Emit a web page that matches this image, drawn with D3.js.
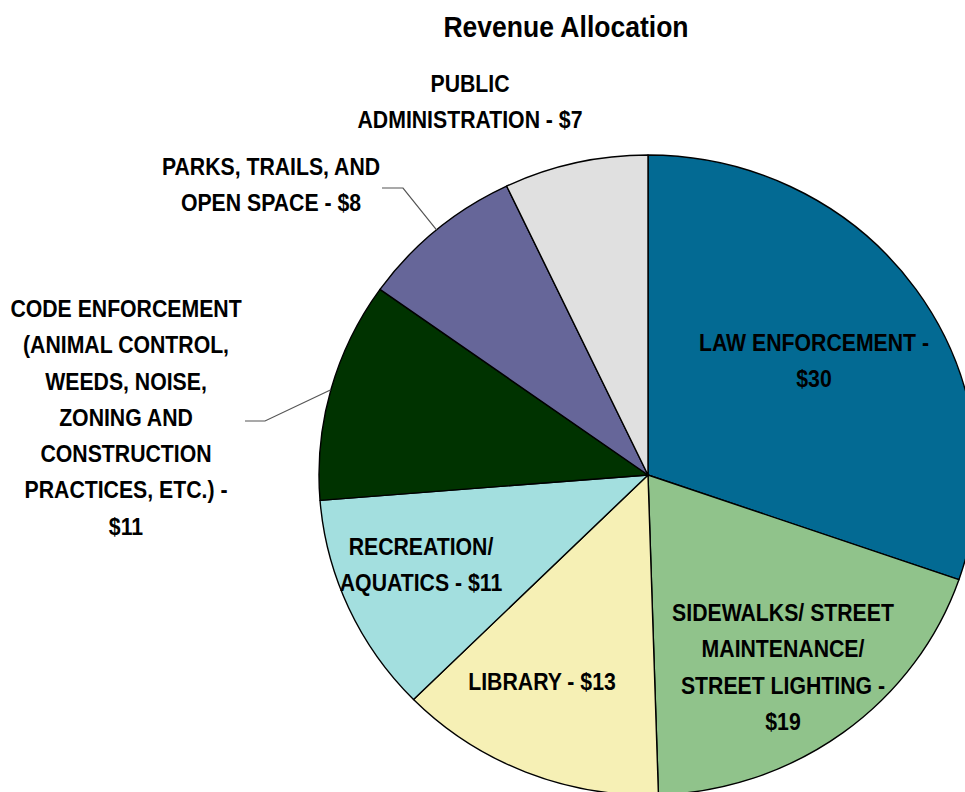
<!DOCTYPE html>
<html>
<head>
<meta charset="utf-8">
<script src="https://cdn.jsdelivr.net/npm/d3@7"></script>
<style>
  body { margin: 0; background: #fff; }
  #vis svg { display: block; }
  .lbl { font-family: "Liberation Sans", Arial, sans-serif; font-weight: bold; font-size: 24px; fill: #000; }
  .title { font-family: "Liberation Sans", Arial, sans-serif; font-weight: bold; font-size: 29px; fill: #000; }
</style>
</head>
<body>
<div id="vis"></div>
<script>
// data
var categories = [
  'LAW ENFORCEMENT',
  'SIDEWALKS/ STREET MAINTENANCE/ STREET LIGHTING',
  'LIBRARY',
  'RECREATION/ AQUATICS',
  'CODE ENFORCEMENT (ANIMAL CONTROL, WEEDS, NOISE, ZONING AND CONSTRUCTION PRACTICES, ETC.)',
  'PARKS, TRAILS, AND OPEN SPACE',
  'PUBLIC ADMINISTRATION'
];
var values = [30, 19, 13, 11, 11, 8, 7];

// label lines as they are wrapped in the chart
var labelLines = [
  ['LAW ENFORCEMENT -', '$30'],
  ['SIDEWALKS/ STREET', 'MAINTENANCE/', 'STREET LIGHTING -', '$19'],
  ['LIBRARY - $13'],
  ['RECREATION/', 'AQUATICS - $11'],
  ['CODE ENFORCEMENT', '(ANIMAL CONTROL,', 'WEEDS, NOISE,', 'ZONING AND', 'CONSTRUCTION', 'PRACTICES, ETC.) -', '$11'],
  ['PARKS, TRAILS, AND', 'OPEN SPACE - $8'],
  ['PUBLIC', 'ADMINISTRATION - $7']
];

var colors = ['#036a93', '#90c38b', '#f6f0b5', '#a3dfdf', '#003300', '#666699', '#e0e0e0'];

// layout
var width = 965;
var height = 792;
var cx = 648, cy = 475;
var ry = 320;
var rx = 329;
var lineH = 36.3;
var narrow = 0.885;   // no Arial Narrow here, so squeeze Liberation Sans

// label anchors: center x, first baseline
var labelPos = [
  [814, 351],
  [783, 621],
  [542, 690],
  [421, 555],
  [126, 317],
  [271, 175],
  [470, 92]
];
// leader lines for outside labels: start and elbow
var leaders = {
  4: [[245, 421], [265, 421]],
  5: [[382, 188], [403, 188]]
};

var svg = d3.select('#vis')
    .append('svg')
    .attr('width', width)
    .attr('height', height)
    .attr('viewBox', '0 0 ' + width + ' ' + height);

svg.append('g')
    .attr('transform', 'translate(566,37) scale(0.915,1)')
  .append('text')
    .attr('class', 'title')
    .attr('text-anchor', 'middle')
    .text('Revenue Allocation');

var pie = d3.pie().sort(null).value(function (d) { return d; });
var arcs = pie(values);

var arc = d3.arc().innerRadius(0).outerRadius(ry);

// pie is slightly wider than tall in the original
var g = svg.append('g')
    .attr('transform', 'translate(' + cx + ',' + cy + ') scale(' + (rx / ry) + ',1)');

g.selectAll('path.slice')
    .data(arcs)
    .enter().append('path')
    .attr('class', 'slice')
    .attr('d', arc)
    .attr('fill', function (d, i) { return colors[i]; })
    .attr('stroke', '#000')
    .attr('stroke-width', 1.4)
    .attr('stroke-linejoin', 'round')
    .attr('vector-effect', 'non-scaling-stroke');

// leader lines
Object.keys(leaders).forEach(function (k) {
  var a = arcs[k];
  var mid = (a.startAngle + a.endAngle) / 2;
  var end = [cx + rx * Math.sin(mid), cy - ry * Math.cos(mid)];
  var pts = leaders[k].concat([end]);
  svg.append('path')
      .attr('d', d3.line()(pts))
      .attr('fill', 'none')
      .attr('stroke', '#555')
      .attr('stroke-width', 1.2);
});

// labels
var labels = svg.selectAll('g.lblg')
    .data(labelLines)
    .enter().append('g')
    .attr('class', 'lblg')
    .attr('transform', function (d, i) {
      return 'translate(' + labelPos[i][0] + ',' + labelPos[i][1] + ') scale(' + narrow + ',1)';
    })
  .append('text')
    .attr('class', 'lbl')
    .attr('text-anchor', 'middle');

labels.each(function (lines) {
  var t = d3.select(this);
  lines.forEach(function (ln, j) {
    t.append('tspan')
        .attr('x', 0)
        .attr('y', j * lineH)
        .text(ln);
  });
});
</script>
</body>
</html>
